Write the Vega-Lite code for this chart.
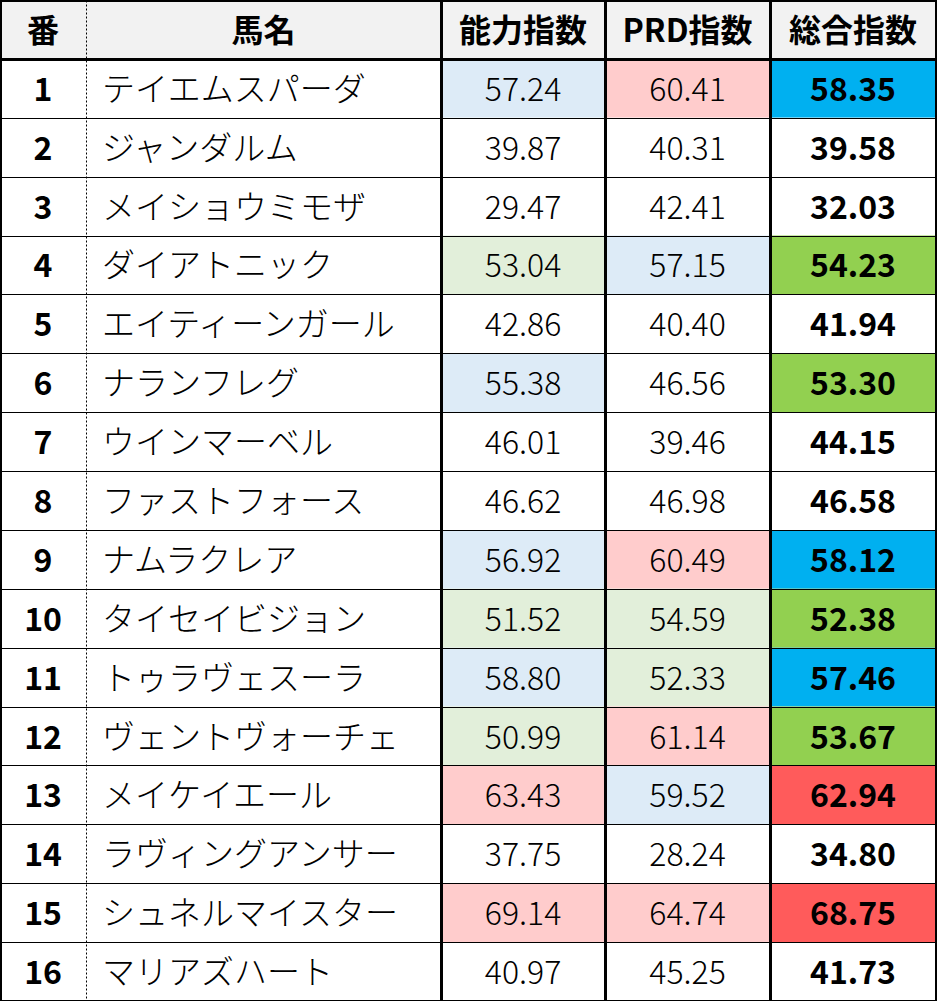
{
  "$schema": "https://vega.github.io/schema/vega-lite/v6.json",
  "padding": 0,
  "background": "white",
  "bounds": "flush",
  "spacing": 0,
  "resolve": {"scale": {"fill": "independent", "y": "independent"}},
  "config": {
    "view": {"stroke": null},
    "font": "Noto Sans CJK JP",
    "concat": {"spacing": 0}
  },
  "datasets": {
    "horses": [
      {"no": 1, "name": "テイエムスパーダ", "ability": 57.24, "prd": 60.41, "total": 58.35},
      {"no": 2, "name": "ジャンダルム", "ability": 39.87, "prd": 40.31, "total": 39.58},
      {"no": 3, "name": "メイショウミモザ", "ability": 29.47, "prd": 42.41, "total": 32.03},
      {"no": 4, "name": "ダイアトニック", "ability": 53.04, "prd": 57.15, "total": 54.23},
      {"no": 5, "name": "エイティーンガール", "ability": 42.86, "prd": 40.40, "total": 41.94},
      {"no": 6, "name": "ナランフレグ", "ability": 55.38, "prd": 46.56, "total": 53.30},
      {"no": 7, "name": "ウインマーベル", "ability": 46.01, "prd": 39.46, "total": 44.15},
      {"no": 8, "name": "ファストフォース", "ability": 46.62, "prd": 46.98, "total": 46.58},
      {"no": 9, "name": "ナムラクレア", "ability": 56.92, "prd": 60.49, "total": 58.12},
      {"no": 10, "name": "タイセイビジョン", "ability": 51.52, "prd": 54.59, "total": 52.38},
      {"no": 11, "name": "トゥラヴェスーラ", "ability": 58.80, "prd": 52.33, "total": 57.46},
      {"no": 12, "name": "ヴェントヴォーチェ", "ability": 50.99, "prd": 61.14, "total": 53.67},
      {"no": 13, "name": "メイケイエール", "ability": 63.43, "prd": 59.52, "total": 62.94},
      {"no": 14, "name": "ラヴィングアンサー", "ability": 37.75, "prd": 28.24, "total": 34.80},
      {"no": 15, "name": "シュネルマイスター", "ability": 69.14, "prd": 64.74, "total": 68.75},
      {"no": 16, "name": "マリアズハート", "ability": 40.97, "prd": 45.25, "total": 41.73}
    ]
  },
  "hconcat": [
    {
      "width": 86, "height": 1001,
      "layer": [
        {
          "data": {"name": "horses"},
          "mark": {"type": "rect", "fill": "white"},
          "encoding": {
            "y": {"field": "no", "type": "ordinal",
              "scale": {"domain": [0,1,2,3,4,5,6,7,8,9,10,11,12,13,14,15,16], "paddingInner": 0, "paddingOuter": 0},
              "axis": {"labels": false, "ticks": false, "title": null, "grid": true, "tickBand": "extent", "gridColor": "black", "gridOpacity": 1, "gridCap": "square",
                "gridWidth": {"condition": {"test": "datum.value === 0 || datum.value === 16 || datum.extra", "value": 3}, "value": 1},
                "domain": true, "domainColor": "black", "domainWidth": 3, "domainCap": "square", "zindex": 1}}
          }
        },
        {
          "data": {"name": "horses"},
          "mark": {"type": "text", "fontSize": 32, "fontWeight": "bold", "color": "black", "dy": 2.5},
          "encoding": {
            "y": {"field": "no", "type": "ordinal"},
            "text": {"field": "no", "type": "ordinal"}
          }
        },
        {
          "data": {"values": [{"no": 0, "label": "番"}]},
          "mark": {"type": "rect", "fill": "#f2f2f2"},
          "encoding": {"y": {"field": "no", "type": "ordinal"}}
        },
        {
          "data": {"values": [{"no": 0, "label": "番"}]},
          "mark": {"type": "text", "fontSize": 32, "fontWeight": "bold", "color": "black", "dy": 3},
          "encoding": {"y": {"field": "no", "type": "ordinal"}, "text": {"field": "label"}}
        }
      ]
    },
    {
      "width": 355, "height": 1001,
      "layer": [
        {
          "data": {"name": "horses"},
          "mark": {"type": "rect", "fill": "white"},
          "encoding": {
            "y": {"field": "no", "type": "ordinal",
              "scale": {"domain": [0,1,2,3,4,5,6,7,8,9,10,11,12,13,14,15,16], "paddingInner": 0, "paddingOuter": 0},
              "axis": {"labels": false, "ticks": false, "title": null, "grid": true, "tickBand": "extent", "gridColor": "black", "gridOpacity": 1, "gridCap": "square",
                "gridWidth": {"condition": {"test": "datum.value === 0 || datum.value === 16 || datum.extra", "value": 3}, "value": 1},
                "domain": true, "domainColor": "black", "domainWidth": 1, "domainDash": [2, 2], "zindex": 1}}
          }
        },
        {
          "data": {"name": "horses"},
          "mark": {"type": "text", "fontSize": 33, "fontWeight": 300, "color": "black", "align": "left", "dx": 16, "dy": 2.5},
          "encoding": {
            "x": {"value": 0},
            "y": {"field": "no", "type": "ordinal"},
            "text": {"field": "name", "type": "nominal"}
          }
        },
        {
          "data": {"values": [{"no": 0, "label": "馬名"}]},
          "mark": {"type": "rect", "fill": "#f2f2f2"},
          "encoding": {"y": {"field": "no", "type": "ordinal"}}
        },
        {
          "data": {"values": [{"no": 0, "label": "馬名"}]},
          "mark": {"type": "text", "fontSize": 32, "fontWeight": "bold", "color": "black", "dy": 3},
          "encoding": {"y": {"field": "no", "type": "ordinal"}, "text": {"field": "label"}}
        }
      ]
    },
    {
      "width": 164, "height": 1001,
      "layer": [
        {
          "data": {"name": "horses"},
          "mark": {"type": "rect"},
          "encoding": {
            "y": {"field": "no", "type": "ordinal",
              "scale": {"domain": [0,1,2,3,4,5,6,7,8,9,10,11,12,13,14,15,16], "paddingInner": 0, "paddingOuter": 0},
              "axis": {"labels": false, "ticks": false, "title": null, "grid": true, "tickBand": "extent", "gridColor": "black", "gridOpacity": 1, "gridCap": "square",
                "gridWidth": {"condition": {"test": "datum.value === 0 || datum.value === 16 || datum.extra", "value": 3}, "value": 1},
                "domain": true, "domainColor": "black", "domainWidth": 3, "domainCap": "square", "zindex": 1}},
            "fill": {"field": "ability", "type": "quantitative", "legend": null,
              "scale": {"type": "threshold", "domain": [50, 55, 60], "range": ["#ffffff", "#e2efda", "#ddebf7", "#ffcccc"]}}
          }
        },
        {
          "data": {"name": "horses"},
          "mark": {"type": "text", "fontSize": 32, "fontWeight": 300, "color": "black", "dy": 2.5},
          "encoding": {
            "y": {"field": "no", "type": "ordinal"},
            "text": {"field": "ability", "type": "quantitative", "format": ".2f"}
          }
        },
        {
          "data": {"values": [{"no": 0, "label": "能力指数"}]},
          "mark": {"type": "rect", "fill": "#f2f2f2"},
          "encoding": {"y": {"field": "no", "type": "ordinal"}}
        },
        {
          "data": {"values": [{"no": 0, "label": "能力指数"}]},
          "mark": {"type": "text", "fontSize": 32, "fontWeight": "bold", "color": "black", "dy": 3},
          "encoding": {"y": {"field": "no", "type": "ordinal"}, "text": {"field": "label"}}
        }
      ]
    },
    {
      "width": 165, "height": 1001,
      "layer": [
        {
          "data": {"name": "horses"},
          "mark": {"type": "rect"},
          "encoding": {
            "y": {"field": "no", "type": "ordinal",
              "scale": {"domain": [0,1,2,3,4,5,6,7,8,9,10,11,12,13,14,15,16], "paddingInner": 0, "paddingOuter": 0},
              "axis": {"labels": false, "ticks": false, "title": null, "grid": true, "tickBand": "extent", "gridColor": "black", "gridOpacity": 1, "gridCap": "square",
                "gridWidth": {"condition": {"test": "datum.value === 0 || datum.value === 16 || datum.extra", "value": 3}, "value": 1},
                "domain": true, "domainColor": "black", "domainWidth": 3, "domainCap": "square", "zindex": 1}},
            "fill": {"field": "prd", "type": "quantitative", "legend": null,
              "scale": {"type": "threshold", "domain": [50, 55, 60], "range": ["#ffffff", "#e2efda", "#ddebf7", "#ffcccc"]}}
          }
        },
        {
          "data": {"name": "horses"},
          "mark": {"type": "text", "fontSize": 32, "fontWeight": 300, "color": "black", "dy": 2.5},
          "encoding": {
            "y": {"field": "no", "type": "ordinal"},
            "text": {"field": "prd", "type": "quantitative", "format": ".2f"}
          }
        },
        {
          "data": {"values": [{"no": 0, "label": "PRD指数"}]},
          "mark": {"type": "rect", "fill": "#f2f2f2"},
          "encoding": {"y": {"field": "no", "type": "ordinal"}}
        },
        {
          "data": {"values": [{"no": 0, "label": "PRD指数"}]},
          "mark": {"type": "text", "fontSize": 32, "fontWeight": "bold", "color": "black", "dy": 3},
          "encoding": {"y": {"field": "no", "type": "ordinal"}, "text": {"field": "label"}}
        }
      ]
    },
    {
      "width": 166, "height": 1001,
      "layer": [
        {
          "data": {"name": "horses"},
          "mark": {"type": "rect"},
          "encoding": {
            "y": {"field": "no", "type": "ordinal",
              "scale": {"domain": [0,1,2,3,4,5,6,7,8,9,10,11,12,13,14,15,16], "paddingInner": 0, "paddingOuter": 0},
              "axis": {"labels": false, "ticks": false, "title": null, "grid": true, "tickBand": "extent", "gridColor": "black", "gridOpacity": 1, "gridCap": "square",
                "gridWidth": {"condition": {"test": "datum.value === 0 || datum.value === 16 || datum.extra", "value": 3}, "value": 1},
                "domain": true, "domainColor": "black", "domainWidth": 3, "domainCap": "square", "zindex": 1}},
            "fill": {"field": "total", "type": "quantitative", "legend": null,
              "scale": {"type": "threshold", "domain": [50, 55, 60], "range": ["#ffffff", "#92d050", "#00b0f0", "#ff5b5b"]}}
          }
        },
        {
          "data": {"name": "horses"},
          "mark": {"type": "text", "fontSize": 32, "fontWeight": "bold", "color": "black", "dy": 2.5},
          "encoding": {
            "y": {"field": "no", "type": "ordinal"},
            "text": {"field": "total", "type": "quantitative", "format": ".2f"}
          }
        },
        {
          "data": {"values": [{"no": 0, "label": "総合指数"}]},
          "mark": {"type": "rect", "fill": "#f2f2f2"},
          "encoding": {"y": {"field": "no", "type": "ordinal"}}
        },
        {
          "data": {"values": [{"no": 0, "label": "総合指数"}]},
          "mark": {"type": "text", "fontSize": 32, "fontWeight": "bold", "color": "black", "dy": 3},
          "encoding": {"y": {"field": "no", "type": "ordinal"}, "text": {"field": "label"}}
        }
      ]
    },
    {
      "width": 1, "height": 1001,
      "data": {"name": "horses"},
      "mark": {"type": "rect", "fill": "white"},
      "encoding": {
        "y": {"field": "no", "type": "ordinal",
          "scale": {"domain": [0,1,2,3,4,5,6,7,8,9,10,11,12,13,14,15,16], "paddingInner": 0, "paddingOuter": 0},
          "axis": {"labels": false, "ticks": false, "title": null, "grid": true, "tickBand": "extent", "gridColor": "black", "gridOpacity": 1, "gridCap": "square",
            "gridWidth": {"condition": {"test": "datum.value === 0 || datum.value === 16 || datum.extra", "value": 3}, "value": 0},
            "domain": true, "domainColor": "black", "domainWidth": 3, "domainCap": "square", "zindex": 1}}
      }
    }
  ]
}
